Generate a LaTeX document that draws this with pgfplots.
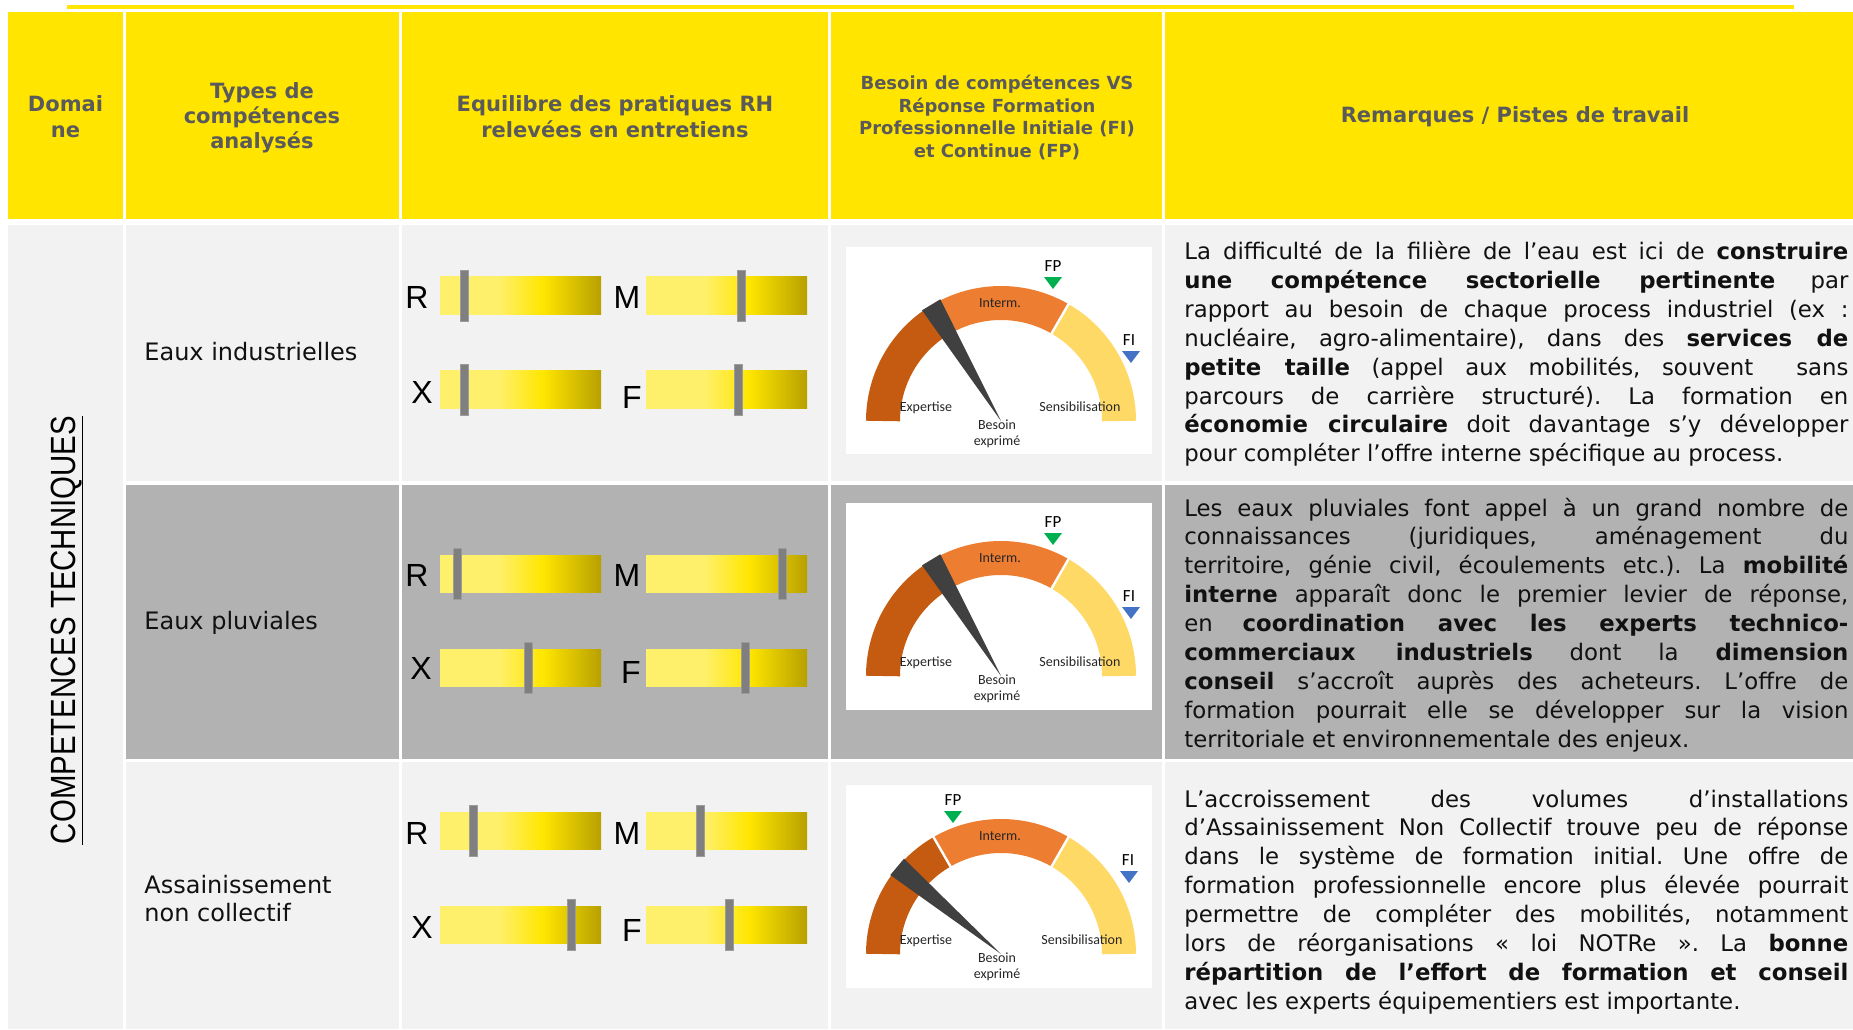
\documentclass[border=0pt]{standalone}
\usepackage{fontspec}
\usepackage{graphicx}
\usepackage{pgfplots}
\usepackage{pgfplotstable}
\pgfplotsset{compat=1.18}
\setmainfont{DejaVu Sans}
\newfontfamily\hdrfont{DejaVu Sans}
\newfontfamily\bodyfont{DejaVu Sans}
\newfontfamily\calib{Carlito}
\newfontfamily\arial{Liberation Sans}
\frenchspacing

\definecolor{hdr}{HTML}{FFE500}
\definecolor{hdrtxt}{HTML}{5A5A5A}
\definecolor{lg}{HTML}{F2F2F2}
\definecolor{dg}{HTML}{B2B2B2}
\definecolor{txt}{HTML}{111111}
\definecolor{slA}{HTML}{FFF06C}
\definecolor{slB}{HTML}{FFE600}
\definecolor{slC}{HTML}{B8A000}
\definecolor{hnd}{HTML}{7F7F7F}
\definecolor{hndb}{HTML}{9C9C9C}
\definecolor{cExp}{HTML}{C55A11}
\definecolor{cInt}{HTML}{ED7D31}
\definecolor{cSen}{HTML}{FFD966}
\definecolor{needle}{HTML}{404040}
\definecolor{fpc}{HTML}{00B050}
\definecolor{fic}{HTML}{4472C4}
\definecolor{glab}{HTML}{262626}

\pgfdeclarehorizontalshading{sliderbar}{100bp}{color(0bp)=(slA); color(25bp)=(slA); color(43bp)=(slA); color(57bp)=(slB); color(75bp)=(slC); color(100bp)=(slC)}
\pgfdeclareplotmark{handle}{\pgfpathrectangle{\pgfpoint{-2pt}{-12.75pt}}{\pgfpoint{4pt}{25.5pt}}\pgfusepathqfillstroke}
\pgfdeclareplotmark{downtri}{\pgfpathmoveto{\pgfpoint{-4.5pt}{3pt}}\pgfpathlineto{\pgfpoint{4.5pt}{3pt}}\pgfpathlineto{\pgfpoint{0pt}{-3pt}}\pgfpathclose\pgfusepathqfill}

\pgfplotstableread{
x0 yc v
440 295.5 0.15
646 295.5 0.59
440 389.7 0.15
646 389.7 0.576
440 574 0.11
646 574 0.846
440 668 0.55
646 668 0.618
440 831 0.21
646 831 0.337
440 925 0.815
646 925 0.517
}\sliders

\newcommand\jl[2]{\node[anchor=base west,inner sep=0pt,font=\bodyfont\fontsize{11.4}{13}\selectfont,text=txt] at (1184,#1) {\makebox[332pt][s]{#2}};}
\newcommand\jlast[2]{\node[anchor=base west,inner sep=0pt,font=\bodyfont\fontsize{11.4}{13}\selectfont,text=txt] at (1184,#1) {\makebox[332pt][l]{#2}};}
\newcommand\bars[2]{%
\shade[shading=sliderbar] (440,#1) rectangle (601,#2);
\shade[shading=sliderbar] (646,#1) rectangle (807,#2);}
\newcommand\glab[3]{\node[inner sep=0pt,font=\calib\fontsize{7}{8}\selectfont,text=glab] at (#1,#2) {#3};}
\newcommand\flab[3]{\node[inner sep=0pt,font=\calib\fontsize{8.5}{9}\selectfont,text=black] at (#1,#2) {#3};}
\newcommand\letter[3]{\node[inner sep=0pt,font=\arial\fontsize{16}{16}\selectfont,text=black] at (#1,#2) {#3};}

\begin{document}
\begin{tikzpicture}
\begin{axis}[width=926.5pt,height=514.5pt,scale only axis,
  xmin=0,xmax=1853,ymin=0,ymax=1029,y dir=reverse,hide axis,clip=false]
% background
\fill[white] (0,0) rectangle (1853,1029);
\fill[hdr] (67,5) rectangle (1794,9);
% header cells
\fill[hdr] (8,12) rectangle (123,219);
\fill[hdr] (126,12) rectangle (399,219);
\fill[hdr] (402,12) rectangle (828,219);
\fill[hdr] (831,12) rectangle (1162,219);
\fill[hdr] (1165,12) rectangle (1853,219);
% body cells
\fill[lg] (8,225) rectangle (123,1029);
\fill[lg] (126,225) rectangle (399,481);
\fill[lg] (402,225) rectangle (828,481);
\fill[lg] (831,225) rectangle (1162,481);
\fill[lg] (1165,225) rectangle (1853,481);
\fill[dg] (126,485) rectangle (399,759);
\fill[dg] (402,485) rectangle (828,759);
\fill[dg] (831,485) rectangle (1162,759);
\fill[dg] (1165,485) rectangle (1853,759);
\fill[lg] (126,762) rectangle (399,1029);
\fill[lg] (402,762) rectangle (828,1029);
\fill[lg] (831,762) rectangle (1162,1029);
\fill[lg] (1165,762) rectangle (1853,1029);
% header texts
\node[align=center,font=\hdrfont\bfseries\fontsize{10.5}{13}\selectfont,text=hdrtxt] at (65.5,117) {Domai\\ne};
\node[align=center,font=\hdrfont\bfseries\fontsize{10.5}{12.6}\selectfont,text=hdrtxt] at (262,117.5) {Types de\\compétences\\analysés};
\node[align=center,font=\hdrfont\bfseries\fontsize{10.5}{13}\selectfont,text=hdrtxt] at (615,117) {Equilibre des pratiques RH\\relevées en entretiens};
\node[align=center,font=\hdrfont\bfseries\fontsize{9}{11.25}\selectfont,text=hdrtxt] at (997,117.5) {Besoin de compétences VS\\Réponse Formation\\Professionnelle Initiale (FI)\\et Continue (FP)};
\node[align=center,font=\hdrfont\bfseries\fontsize{10.5}{13}\selectfont,text=hdrtxt] at (1515,117) {Remarques / Pistes de travail};
% vertical domain text
\node[rotate=90,inner sep=0pt,font=\arial\fontsize{17.5}{17.5}\selectfont,text=black] at (67,630) {\scalebox{0.84}[1]{COMPETENCES TECHNIQUES}};
\draw[black,line width=0.9pt] (82.5,416) -- (82.5,845);
% column 2 labels
\node[anchor=west,inner sep=0pt,font=\hdrfont\fontsize{12}{14}\selectfont,text=txt] at (144,352) {Eaux industrielles};
\node[anchor=west,inner sep=0pt,font=\hdrfont\fontsize{12}{14}\selectfont,text=txt] at (144,623) {Eaux pluviales};
\node[anchor=west,inner sep=0pt,align=left,font=\hdrfont\fontsize{12}{14}\selectfont,text=txt] at (144,899) {Assainissement\\non collectif};
% slider bars
\bars{276.7}{314.3}
\bars{370.9}{408.5}
\bars{555.2}{592.8}
\bars{649.2}{686.8}
\bars{812.2}{849.8}
\bars{906.2}{943.8}
\addplot[only marks,mark=handle,mark options={fill=hnd,draw=hndb,line width=0.4pt}] table[x expr=\thisrow{x0}+161*\thisrow{v},y=yc] {\sliders};
\letter{417}{297}{R}\letter{627}{297}{M}\letter{422}{392}{X}\letter{632}{397}{F}
\letter{417}{575}{R}\letter{627}{575}{M}\letter{421}{668}{X}\letter{631}{672}{F}
\letter{417}{833}{R}\letter{627}{833}{M}\letter{422}{927}{X}\letter{632}{930}{F}
% gauge panels
\fill[white] (846,247) rectangle (1152,454);
\fill[white] (846,503) rectangle (1152,710);
\fill[white] (846,785) rectangle (1152,988);
% rings
\draw[cExp,line width=17pt] (883,421) arc[start angle=180,end angle=120,radius=59pt];
\draw[cInt,line width=17pt] (942,318.81) arc[start angle=120,end angle=60,radius=59pt];
\draw[cSen,line width=17pt] (1060,318.81) arc[start angle=60,end angle=0,radius=59pt];
\draw[cExp,line width=17pt] (883,676) arc[start angle=180,end angle=120,radius=59pt];
\draw[cInt,line width=17pt] (942,573.81) arc[start angle=120,end angle=60,radius=59pt];
\draw[cSen,line width=17pt] (1060,573.81) arc[start angle=60,end angle=0,radius=59pt];
\draw[cExp,line width=17pt] (883,954) arc[start angle=180,end angle=120,radius=59pt];
\draw[cInt,line width=17pt] (942,851.81) arc[start angle=120,end angle=60,radius=59pt];
\draw[cSen,line width=17pt] (1060,851.81) arc[start angle=60,end angle=0,radius=59pt];
\draw[white,line width=1.2pt] (951.5,335.26) -- (932.5,302.35);
\draw[white,line width=1.2pt] (1050.5,335.26) -- (1069.5,302.35);
\draw[white,line width=1.2pt] (951.5,590.26) -- (932.5,557.35);
\draw[white,line width=1.2pt] (1050.5,590.26) -- (1069.5,557.35);
\draw[white,line width=1.2pt] (951.5,868.26) -- (932.5,835.35);
\draw[white,line width=1.2pt] (1050.5,868.26) -- (1069.5,835.35);
% gauge labels
\glab{926}{408}{Expertise}\glab{1000}{303}{Interm.}\glab{1080}{407}{Sensibilisation}
\glab{997}{425}{Besoin}\glab{997}{442}{exprimé}
\glab{926}{663}{Expertise}\glab{1000}{558}{Interm.}\glab{1080}{662}{Sensibilisation}
\glab{997}{680}{Besoin}\glab{997}{697}{exprimé}
\glab{926}{941}{Expertise}\glab{1000}{836}{Interm.}\glab{1082}{940}{Sensibilisation}
\glab{997}{958}{Besoin}\glab{997}{975}{exprimé}
% needles
\addplot[fill=needle,draw=none] coordinates {(1001,421) (922.0,310.3) (940.3,299.3)} --cycle;
\addplot[fill=needle,draw=none] coordinates {(1001,676) (922.0,565.3) (940.3,554.3)} --cycle;
\addplot[fill=needle,draw=none] coordinates {(1001,954) (890.3,875.0) (904.0,858.7)} --cycle;
% FP / FI markers
\addplot[only marks,mark=downtri,mark options={fill=fpc}] coordinates {(1053,283) (1053,539) (953,817)};
\addplot[only marks,mark=downtri,mark options={fill=fic}] coordinates {(1131,357) (1131,613) (1129,877)};
\flab{1053}{266}{FP}\flab{1129}{340}{FI}
\flab{1053}{522}{FP}\flab{1129}{596}{FI}
\flab{953}{800}{FP}\flab{1128}{860}{FI}
% remarks
\jl{259.7}{La difficulté de la filière de l’eau est ici de \textbf{construire}}
\jl{288.6}{\textbf{une compétence sectorielle pertinente} par}
\jl{317.4}{rapport au besoin de chaque process industriel (ex :}
\jl{346.3}{nucléaire, agro-alimentaire), dans des \textbf{services de}}
\jl{375.2}{\textbf{petite taille} (appel aux mobilités, souvent\ \ sans}
\jl{404.1}{parcours de carrière structuré). La formation en}
\jl{432.9}{\textbf{économie circulaire} doit davantage s’y développer}
\jlast{461.8}{pour compléter l’offre interne spécifique au process.}
\jl{516}{Les eaux pluviales font appel à un grand nombre de}
\jl{544.9}{connaissances (juridiques, aménagement du}
\jl{573.7}{territoire, génie civil, écoulements etc.). La \textbf{mobilité}}
\jl{602.6}{\textbf{interne} apparaît donc le premier levier de réponse,}
\jl{631.5}{en \textbf{coordination avec les experts technico-}}
\jl{660.4}{\textbf{commerciaux industriels} dont la \textbf{dimension}}
\jl{689.2}{\textbf{conseil} s’accroît auprès des acheteurs. L’offre de}
\jl{718.1}{formation pourrait elle se développer sur la vision}
\jlast{747}{territoriale et environnementale des enjeux.}
\jl{807}{L’accroissement des volumes d’installations}
\jl{835.9}{d’Assainissement Non Collectif trouve peu de réponse}
\jl{864.7}{dans le système de formation initial. Une offre de}
\jl{893.6}{formation professionnelle encore plus élevée pourrait}
\jl{922.5}{permettre de compléter des mobilités, notamment}
\jl{951.4}{lors de réorganisations « loi NOTRe ». La \textbf{bonne}}
\jl{980.2}{\textbf{répartition de l’effort de formation et conseil}}
\jlast{1009.1}{avec les experts équipementiers est importante.}
\end{axis}
\end{tikzpicture}
\end{document}
